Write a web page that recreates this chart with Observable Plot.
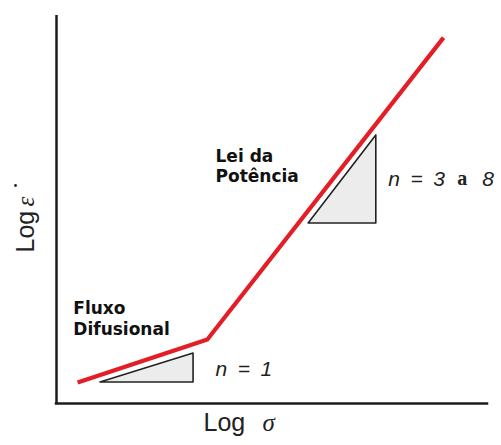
<!DOCTYPE html>
<html>
<head>
<meta charset="utf-8">
<script src="https://cdn.jsdelivr.net/npm/d3@7"></script>
<script src="https://cdn.jsdelivr.net/npm/@observablehq/plot@0.6"></script>
<style>
  body { margin: 0; background: #fff; }
</style>
</head>
<body>
<div id="chart"></div>
<script>
// Creep-rate curve: log strain rate against log stress (schematic units)
const logSigma = [0.49, 3.50, 8.98];
const logStrainRate = [0.54, 1.65, 9.43];

// Slope triangles under each regime: [start, end] of run and rise
const slopeName = ["n = 1", "n = 3 a 8"];
const slopeRunX = [[1.02, 3.18], [5.85, 7.42]];
const slopeRiseY = [[0.54, 1.29], [4.64, 6.91]];

// Regime names and where they sit
const regimeName = ["Fluxo\nDifusional", "Lei da\nPotência"];
const regimeX = [0.39, 3.69];
const regimeY = [2.20, 6.14];

// Slope exponent labels
const exponentX = [3.69, 7.70];
const exponentY = [0.894, 5.79];

const curve = logSigma.map((x, i) => ({x, y: logStrainRate[i]}));
const triangles = slopeName.flatMap((k, i) => [
  {k, x: slopeRunX[i][0], y1: slopeRiseY[i][0], y2: slopeRiseY[i][0]},
  {k, x: slopeRunX[i][1], y1: slopeRiseY[i][0], y2: slopeRiseY[i][1]}
]);
const regimes = regimeName.map((t, i) => ({t, x: regimeX[i], y: regimeY[i]}));

const sans = "Liberation Sans, Arial, sans-serif";
const serif = "Liberation Serif, Times New Roman, serif";
const bold = "DejaVu Sans, Verdana, sans-serif";
const sp = "\u2002"; // en space, for the wide gaps around "="

const chart = Plot.plot({
  width: 501,
  height: 445,
  marginLeft: 56,
  marginRight: 14,
  marginTop: 15,
  marginBottom: 42,
  x: {domain: [0, 10], axis: null},
  y: {domain: [0, 10], axis: null},
  style: {background: "#fff", fontFamily: sans},
  marks: [
    // axes
    Plot.ruleX([0], {stroke: "#1b1b1b", strokeWidth: 2.5}),
    Plot.ruleY([0], {stroke: "#1b1b1b", strokeWidth: 2.5, strokeLinecap: "square"}),
    // slope triangles
    Plot.areaY(triangles, {x: "x", y1: "y1", y2: "y2", z: "k", fill: "#ececec", stroke: "#222", strokeWidth: 1.6}),
    // creep curve
    Plot.line(curve, {x: "x", y: "y", stroke: "#e41e26", strokeWidth: 4.2, strokeLinecap: "butt"}),
    // regime names
    Plot.text(regimes, {x: "x", y: "y", text: "t", textAnchor: "start", lineHeight: 1.2,
      fontFamily: bold, fontWeight: "bold", fontSize: 17, fill: "#111"}),
    // exponents
    Plot.text([0], {x: () => exponentX[0], y: () => exponentY[0], text: () => `n${sp}=${sp}1`, textAnchor: "start",
      fontStyle: "italic", fontSize: 21, fill: "#222"}),
    Plot.text([0], {x: () => exponentX[1], y: () => exponentY[1], text: () => `n${sp}=${sp}3`, textAnchor: "start",
      fontStyle: "italic", fontSize: 21, fill: "#222"}),
    Plot.text([0], {x: () => exponentX[1], y: () => exponentY[1], text: () => "a", textAnchor: "start",
      dx: 69, fontFamily: serif, fontWeight: "bold", fontSize: 20, fill: "#222"}),
    Plot.text([0], {x: () => exponentX[1], y: () => exponentY[1], text: () => "8", textAnchor: "start",
      dx: 94, fontStyle: "italic", fontSize: 21, fill: "#222"}),
    // axis titles
    Plot.text(["Log"], {frameAnchor: "bottom", text: d => d, textAnchor: "start", dx: -68.5, dy: 27,
      fontSize: 25, fill: "#222"}),
    Plot.text(["σ"], {frameAnchor: "bottom", text: d => d, textAnchor: "start", dx: -9.5, dy: 27,
      fontFamily: serif, fontStyle: "italic", fontSize: 25, fill: "#222"}),
    Plot.text(["Log"], {frameAnchor: "left", text: d => d, textAnchor: "start", rotate: -90, dx: -30.7, dy: 43,
      fontSize: 25, fill: "#222"}),
    Plot.text(["ε"], {frameAnchor: "left", text: d => d, textAnchor: "start", rotate: -90, dx: -30.7, dy: -3,
      fontFamily: serif, fontStyle: "italic", fontSize: 25, fill: "#222"}),
    // the rate dot over epsilon
    Plot.dot([0], {frameAnchor: "left", dx: -41, dy: -24, r: 1.4, fill: "#222", stroke: null})
  ]
});

document.getElementById("chart").appendChild(chart);
</script>
</body>
</html>
